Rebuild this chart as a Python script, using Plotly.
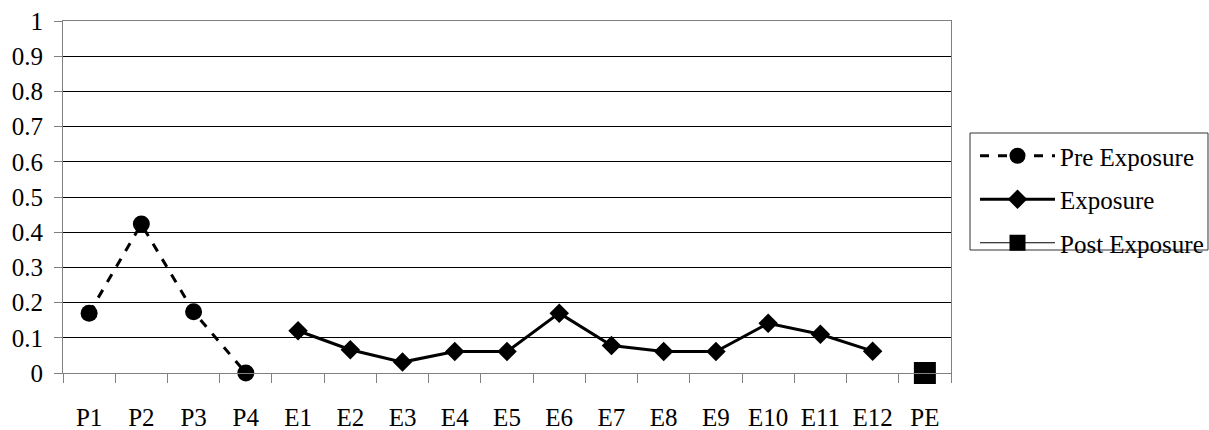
import plotly.graph_objects as go

pre_labels = ["P1", "P2", "P3", "P4"]
pre_values = [0.17, 0.423, 0.174, 0.0]
exp_labels = ["E1", "E2", "E3", "E4", "E5", "E6", "E7", "E8", "E9", "E10", "E11", "E12"]
exp_values = [0.12, 0.066, 0.031, 0.061, 0.061, 0.17, 0.078, 0.061, 0.061, 0.141, 0.11, 0.062]
post_labels = ["PE"]
post_values = [0.0]
categories = pre_labels + exp_labels + post_labels
y_ticks = [0, 0.1, 0.2, 0.3, 0.4, 0.5, 0.6, 0.7, 0.8, 0.9, 1]
y_tick_text = ["0", "0.1", "0.2", "0.3", "0.4", "0.5", "0.6", "0.7", "0.8", "0.9", "1"]

FONT = "Liberation Serif"
FS = 25

fig = go.Figure()
fig.add_trace(go.Scatter(
    x=pre_labels, y=pre_values, name="Pre Exposure", mode="lines+markers",
    line=dict(color="black", width=3, dash="9px,9px"),
    marker=dict(symbol="circle", size=17, color="black"),
    cliponaxis=False, legendgroup="a"))
fig.add_trace(go.Scatter(
    x=exp_labels, y=exp_values, name="Exposure", mode="lines+markers",
    line=dict(color="black", width=3),
    marker=dict(symbol="diamond", size=15, color="black"),
    cliponaxis=False, legendgroup="b"))
fig.add_trace(go.Scatter(
    x=post_labels, y=post_values, name="Post Exposure", mode="lines+markers",
    line=dict(color="black", width=1),
    marker=dict(symbol="square", size=22, color="black"),
    cliponaxis=False, legendgroup="c"))

# legend frame
fig.add_shape(type="rect", xref="paper", yref="paper",
              x0=1.0214, x1=1.2894, y0=0.3494, y1=0.6818,
              line=dict(color="#333333", width=1), fillcolor="white", layer="below")

fig.update_layout(
    width=1209, height=430,
    margin=dict(l=63, r=258, t=21, b=57, autoexpand=False),
    paper_bgcolor="white", plot_bgcolor="white",
    font=dict(family=FONT, size=FS, color="black"),
    showlegend=True,
    legend=dict(x=975 / 1209, y=(430 - 133) / 430, xref="container", yref="container",
                xanchor="left", yanchor="top",
                borderwidth=0, bgcolor="rgba(0,0,0,0)",
                font=dict(family=FONT, size=FS, color="black"),
                tracegroupgap=8, itemwidth=75),
    xaxis=dict(type="category", categoryorder="array", categoryarray=categories,
               range=[-0.5, len(categories) - 0.5], automargin=False,
               showline=True, linecolor="#808080", linewidth=1, mirror=True,
               ticks="outside", ticklen=9, tickcolor="#808080", tickson="boundaries",
               showgrid=False, ticklabelstandoff=22,
               tickfont=dict(family=FONT, size=FS, color="black")),
    yaxis=dict(range=[0, 1], tickmode="array", tickvals=y_ticks, ticktext=y_tick_text,
               automargin=False,
               showline=True, linecolor="#808080", linewidth=1, mirror=True,
               ticks="outside", ticklen=8, tickcolor="#808080",
               showgrid=True, gridcolor="black", gridwidth=1, zeroline=False,
               ticklabelstandoff=6,
               tickfont=dict(family=FONT, size=FS, color="black")),
)

fig.write_html("out.html", config={"displayModeBar": False},
               post_script="document.body.style.margin='0';")
